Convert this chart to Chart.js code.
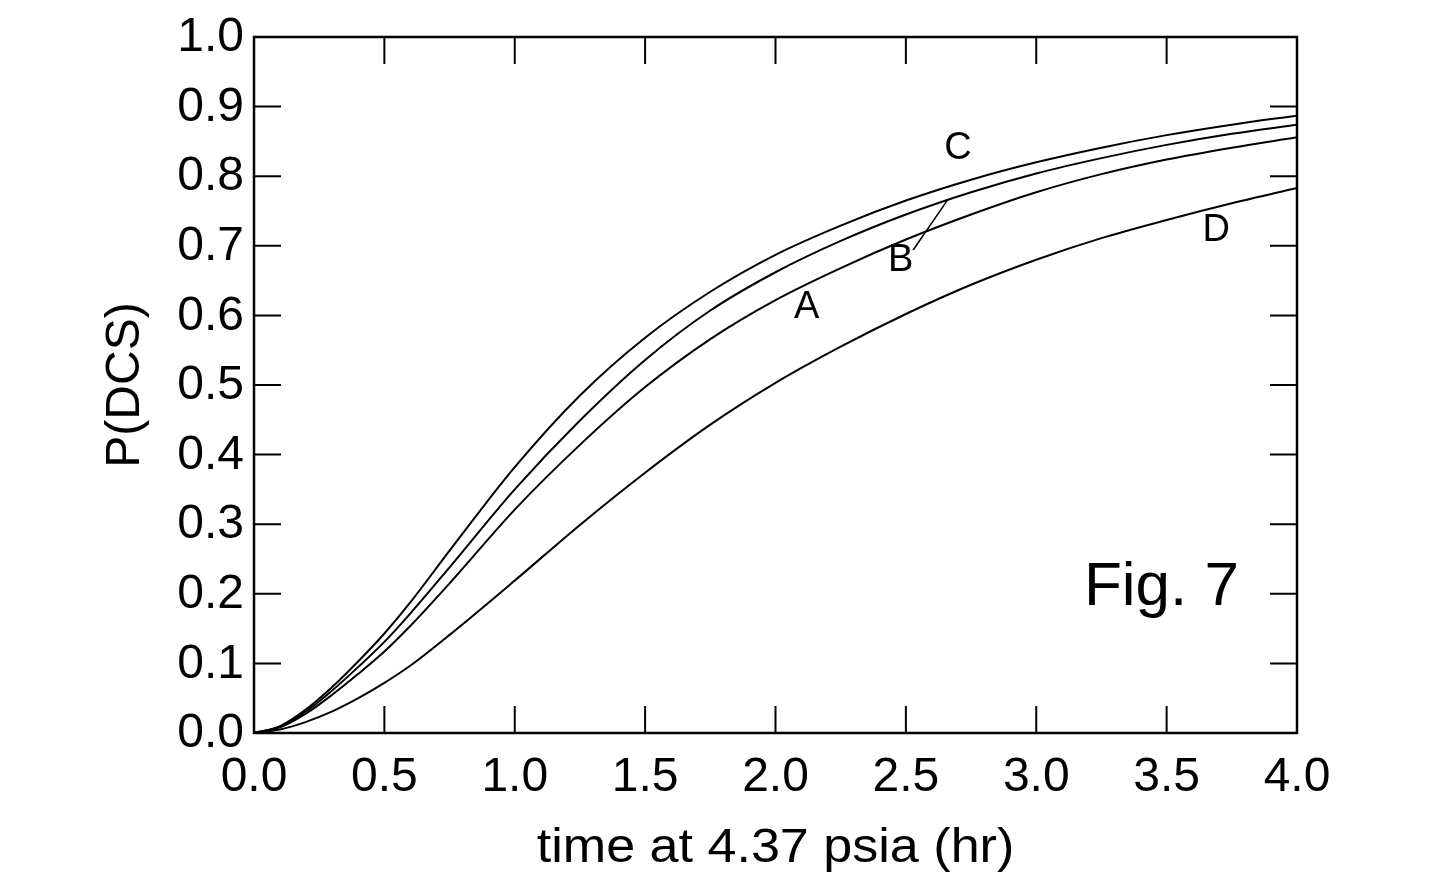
<!DOCTYPE html>
<html>
<head>
<meta charset="utf-8">
<script src="https://cdn.jsdelivr.net/npm/chart.js@4.4.1/dist/chart.umd.min.js"></script>
<style>
  html, body { margin:0; padding:0; background:#fff; }
  #wrap { width:1434px; height:885px; }
</style>
</head>
<body>
<div id="wrap"><canvas id="c" width="1434" height="885"></canvas></div>
<script>
/* Fig. 7 - P(DCS) vs time at 4.37 psia, four model curves A-D */

const times  = [0, 0.1, 0.2, 0.3, 0.4, 0.5, 0.6, 0.75, 1.0, 1.25, 1.5, 1.75, 2.0, 2.25, 2.5, 2.75, 3.0, 3.25, 3.5, 3.75, 4.0];
const curveA = [0, 0.008, 0.028, 0.055, 0.085, 0.117, 0.154, 0.215, 0.321, 0.414, 0.497, 0.566, 0.622, 0.668, 0.709, 0.745, 0.777, 0.803, 0.824, 0.841, 0.856];
const curveB = [0, 0.009, 0.031, 0.061, 0.095, 0.131, 0.172, 0.238, 0.350, 0.449, 0.536, 0.607, 0.662, 0.707, 0.745, 0.777, 0.804, 0.826, 0.845, 0.861, 0.874];
const curveC = [0, 0.010, 0.034, 0.066, 0.103, 0.143, 0.188, 0.262, 0.382, 0.485, 0.568, 0.634, 0.687, 0.729, 0.765, 0.795, 0.820, 0.841, 0.859, 0.874, 0.887];
const curveD = [0, 0.005, 0.016, 0.031, 0.050, 0.072, 0.097, 0.141, 0.219, 0.299, 0.374, 0.443, 0.503, 0.555, 0.602, 0.644, 0.680, 0.711, 0.737, 0.761, 0.783];

const xTicks = [0, 0.5, 1.0, 1.5, 2.0, 2.5, 3.0, 3.5, 4.0];
const yTicks = [0, 0.1, 0.2, 0.3, 0.4, 0.5, 0.6, 0.7, 0.8, 0.9, 1.0];

// curve labels, in data coordinates
const curveLabels = [
  { text:"A", x:2.12, y:0.612 },
  { text:"B", x:2.48, y:0.679 },
  { text:"C", x:2.70, y:0.840 },
  { text:"D", x:3.69, y:0.722 },
];
const leaderB = [[2.528, 0.694], [2.662, 0.767]];
const figLabel = { text:"Fig. 7", x:3.48, y:0.208 };

const FONT = '"Liberation Sans", Arial, Helvetica, sans-serif';
const pts = ys => times.map((t, i) => ({ x:t, y:ys[i] }));
const ds = ys => ({ data:pts(ys), borderColor:"#000", borderWidth:2, pointRadius:0,
                    cubicInterpolationMode:"monotone", fill:false });

const figText = {
  id:"figText",
  afterDraw(chart){
    const { ctx, chartArea:a, scales:{ x, y } } = chart;
    ctx.save();
    ctx.strokeStyle = "#000"; ctx.fillStyle = "#000";

    // frame
    ctx.lineWidth = 2.5;
    ctx.strokeRect(a.left, a.top, a.right - a.left, a.bottom - a.top);

    // inward ticks on all sides
    const TL = 27;
    ctx.lineWidth = 2;
    ctx.beginPath();
    xTicks.forEach(v => {
      const px = x.getPixelForValue(v);
      ctx.moveTo(px, a.bottom); ctx.lineTo(px, a.bottom - TL);
      ctx.moveTo(px, a.top);    ctx.lineTo(px, a.top + TL);
    });
    yTicks.forEach(v => {
      const py = y.getPixelForValue(v);
      ctx.moveTo(a.left, py);  ctx.lineTo(a.left + TL, py);
      ctx.moveTo(a.right, py); ctx.lineTo(a.right - TL, py);
    });
    ctx.stroke();

    // tick labels
    ctx.font = `48px ${FONT}`;
    ctx.textAlign = "right"; ctx.textBaseline = "middle";
    yTicks.forEach(v => ctx.fillText(v.toFixed(1), a.left - 10, y.getPixelForValue(v) + 1));
    ctx.textAlign = "center"; ctx.textBaseline = "top";
    xTicks.forEach(v => ctx.fillText(v.toFixed(1), x.getPixelForValue(v), a.bottom + 21));

    // axis titles
    ctx.font = `48px ${FONT}`;
    ctx.textAlign = "center"; ctx.textBaseline = "middle";
    ctx.save();
    ctx.translate((a.left + a.right) / 2, a.bottom + 116);
    ctx.scale(1.085, 1);
    ctx.fillText("time at 4.37 psia (hr)", 0, 0);
    ctx.restore();
    ctx.save();
    ctx.translate(a.left - 128, (a.top + a.bottom) / 2);
    ctx.rotate(-Math.PI / 2);
    ctx.fillText("P(DCS)", 0, 0);
    ctx.restore();

    // curve labels + leader line for B
    ctx.font = `38px ${FONT}`;
    curveLabels.forEach(l => ctx.fillText(l.text, x.getPixelForValue(l.x), y.getPixelForValue(l.y)));
    ctx.lineWidth = 1.5;
    ctx.beginPath();
    ctx.moveTo(x.getPixelForValue(leaderB[0][0]), y.getPixelForValue(leaderB[0][1]));
    ctx.lineTo(x.getPixelForValue(leaderB[1][0]), y.getPixelForValue(leaderB[1][1]));
    ctx.stroke();

    ctx.font = `62px ${FONT}`;
    ctx.fillText(figLabel.text, x.getPixelForValue(figLabel.x), y.getPixelForValue(figLabel.y));
    ctx.restore();
  }
};

new Chart(document.getElementById("c"), {
  type:"line",
  data:{ datasets:[ ds(curveA), ds(curveB), ds(curveC), ds(curveD) ] },
  options:{
    responsive:false, animation:false, devicePixelRatio:1,
    layout:{ padding:{ left:254, right:137, top:37, bottom:152 } },
    plugins:{ legend:{ display:false }, tooltip:{ enabled:false } },
    scales:{
      x:{ type:"linear", min:0, max:4, display:false },
      y:{ type:"linear", min:0, max:1, display:false }
    }
  },
  plugins:[figText]
});
</script>
</body>
</html>
